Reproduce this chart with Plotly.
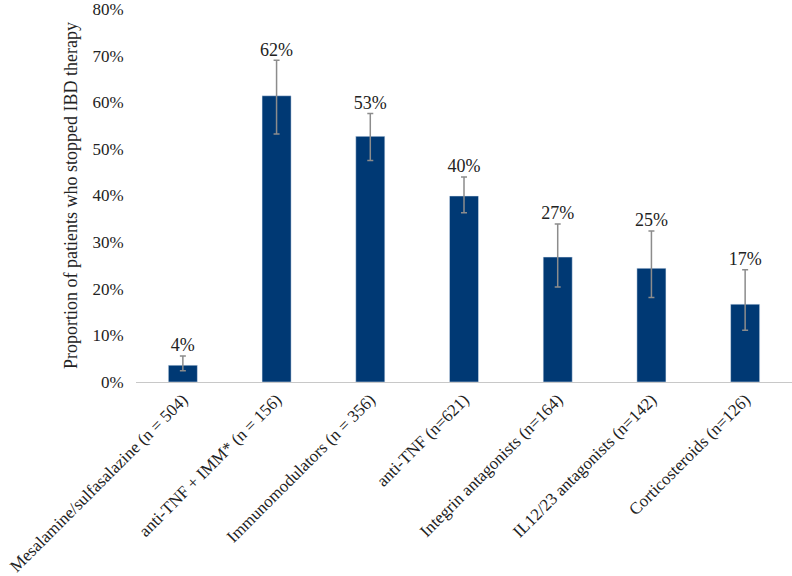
import plotly.graph_objects as go

categories = [
    "Mesalamine/sulfasalazine (n = 504)",
    "anti-TNF + IMM* (n = 156)",
    "Immunomodulators (n = 356)",
    "anti-TNF (n=621)",
    "Integrin antagonists (n=164)",
    "IL12/23 antagonists (n=142)",
    "Corticosteroids (n=126)",
]
values = [3.6, 61.4, 52.7, 39.9, 26.8, 24.4, 16.7]
err_upper = [5.6, 69.0, 57.6, 44.0, 33.9, 32.4, 24.1]
err_lower = [2.4, 53.2, 47.5, 36.3, 20.4, 18.1, 11.1]
labels = ["4%", "62%", "53%", "40%", "27%", "25%", "17%"]

FONT = "Liberation Serif"

fig = go.Figure()
fig.add_trace(go.Bar(
    x=categories,
    y=values,
    width=0.31,
    marker=dict(color="#003974"),
    error_y=dict(
        type="data",
        symmetric=False,
        array=[u - v for u, v in zip(err_upper, values)],
        arrayminus=[v - l for v, l in zip(values, err_lower)],
        color="#8c8c8c",
        thickness=1.5,
        width=3,
    ),
    showlegend=False,
))
fig.add_trace(go.Scatter(
    x=categories,
    y=err_upper,
    mode="text",
    text=labels,
    textposition="top center",
    textfont=dict(family=FONT, size=18, color="#222"),
    showlegend=False,
    hoverinfo="skip",
    cliponaxis=False,
))

fig.update_layout(
    width=792,
    height=576,
    paper_bgcolor="white",
    plot_bgcolor="white",
    font=dict(family=FONT, color="#222", size=16),
    margin=dict(l=136, r=0, t=9, b=194),
)
fig.update_xaxes(
    showline=True,
    linecolor="#c8c8c8",
    linewidth=1,
    tickangle=-45,
    showgrid=False,
    ticks="",
    automargin=False,
    tickfont=dict(family=FONT, size=17),
)
fig.update_yaxes(
    range=[0, 80.01],
    dtick=10,
    ticksuffix="%",
    showgrid=False,
    zeroline=False,
    showline=False,
    automargin=False,
    tickfont=dict(family=FONT, size=17),
    ticklen=8,
    ticks="outside",
    tickcolor="white",
    title=dict(text="Proportion of patients who stopped IBD therapy",
               font=dict(family=FONT, size=18), standoff=10),
)

# page body has a default 8px margin; drop it so the figure fills the window
fig.write_html(
    "out.html",
    config={"displayModeBar": False},
    post_script="document.body.style.margin='0';",
)
